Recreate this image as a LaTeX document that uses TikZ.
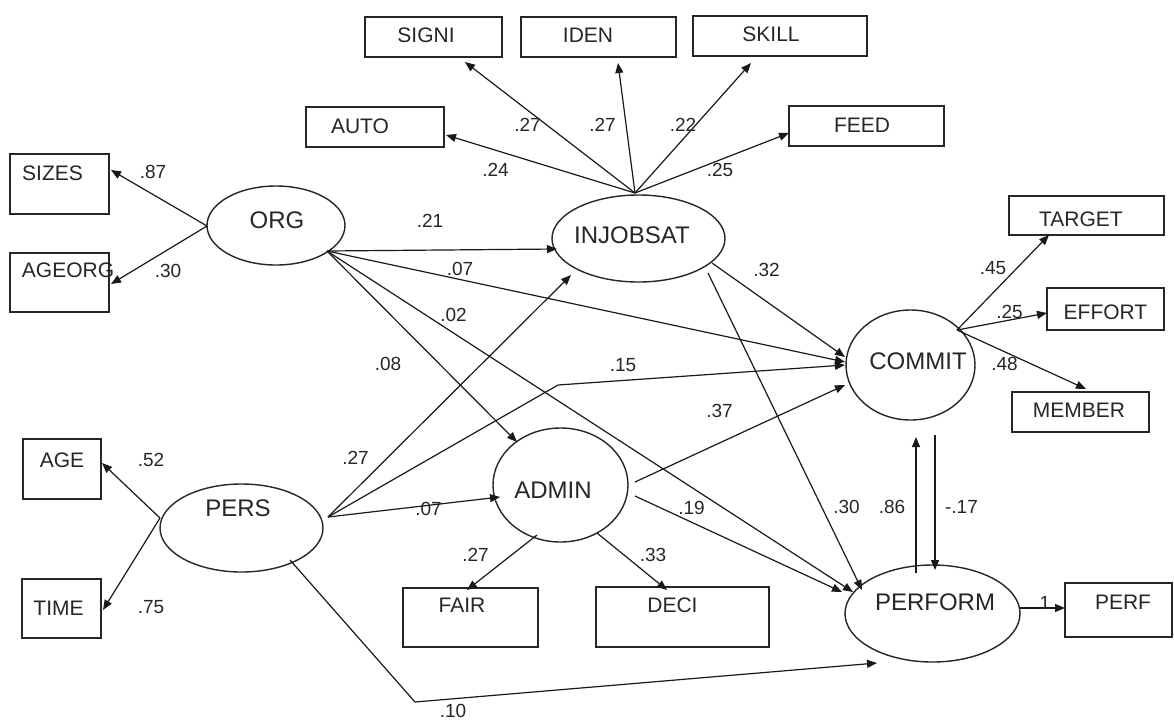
\documentclass[tikz,border=0pt]{standalone}
\usepackage{fontspec}
\setmainfont{Liberation Sans}
\usetikzlibrary{shapes.geometric,arrows.meta,calc}
\newcommand\mytxt[3]{\raisebox{#2}[0pt][0pt]{\makebox[0pt]{\kern#1\relax#3\kern-#1\relax}}}
\begin{document}
\begin{tikzpicture}[x=0.5pt,y=-0.5pt,
  ell/.style={draw=black!85, ellipse, inner sep=0pt, line width=0.7pt, text=black!85, font=\fontsize{12}{14}\selectfont},
  box/.style={draw=black!85, rectangle, inner sep=0pt, line width=0.7pt, text=black!85, font=\fontsize{10.5}{12}\selectfont},
  num/.style={inner sep=0pt, text=black!85, font=\fontsize{9.5}{11}\selectfont},
  arr/.style={draw=black!90, line width=0.6pt, -{Triangle[length=5pt,width=4pt]}}]
\useasboundingbox[fill=white] (0,0) rectangle (1174,719);
% latent variables
\node[ell, minimum width=69pt, minimum height=39.5pt] (org) at (276,225.5) {\mytxt{0.5pt}{-1.55pt}{ORG}};
\node[ell, minimum width=86.5pt, minimum height=43.5pt] (inj) at (638.5,238.5) {\mytxt{-3.25pt}{-2.55pt}{INJOBSAT}};
\node[ell, minimum width=64.5pt, minimum height=55pt] (commit) at (910.5,365) {\mytxt{3.75pt}{-2.3pt}{COMMIT}};
\node[ell, minimum width=81.5pt, minimum height=44pt] (pers) at (241.5,528) {\mytxt{-1.75pt}{5.7pt}{PERS}};
\node[ell, minimum width=67.5pt, minimum height=57pt] (admin) at (560.5,485) {\mytxt{-3.75pt}{-6.8pt}{ADMIN}};
\node[ell, minimum width=87.5pt, minimum height=48.5pt] (perform) at (932.5,613.5) {\mytxt{1.25pt}{1.45pt}{PERFORM}};
% indicators
\node[box, minimum width=68.5pt, minimum height=20pt] (signi) at (433.5,37) {\mytxt{-3.75pt}{-2.76pt}{SIGNI}};
\node[box, minimum width=77.5pt, minimum height=20pt] (iden) at (598.5,37) {\mytxt{-5.25pt}{-2.76pt}{IDEN}};
\node[box, minimum width=87pt, minimum height=20pt] (skill) at (780,36) {\mytxt{-4.5pt}{-2.76pt}{SKILL}};
\node[box, minimum width=69pt, minimum height=20pt] (auto) at (375,127) {\mytxt{-7.5pt}{-3.26pt}{AUTO}};
\node[box, minimum width=77.5pt, minimum height=20pt] (feed) at (866.5,126) {\mytxt{-2.25pt}{-3pt}{FEED}};
\node[box, minimum width=49.5pt, minimum height=30pt] (sizes) at (59.5,184) {\mytxt{-3.5pt}{1.74pt}{SIZES}};
\node[box, minimum width=49.5pt, minimum height=29.5pt] (ageorg) at (59.5,282.5) {\mytxt{4.25pt}{2.49pt}{AGEORG}};
\node[box, minimum width=77.5pt, minimum height=19.5pt] (target) at (1086.5,215.5) {\mytxt{-2.75pt}{-5.5pt}{TARGET}};
\node[box, minimum width=58.5pt, minimum height=21pt] (effort) at (1105.5,309) {\mytxt{0pt}{-5.26pt}{EFFORT}};
\node[box, minimum width=68.5pt, minimum height=20pt] (member) at (1080.5,412) {\mytxt{-0.75pt}{-2.5pt}{MEMBER}};
\node[box, minimum width=39pt, minimum height=30pt] (age) at (62,469) {\mytxt{0pt}{0.74pt}{AGE}};
\node[box, minimum width=39.5pt, minimum height=29.5pt] (time) at (61.5,608.5) {\mytxt{-1.5pt}{-3.26pt}{TIME}};
\node[box, minimum width=67.5pt, minimum height=29.5pt] (fair) at (470.5,617.5) {\mytxt{-4.25pt}{2.74pt}{FAIR}};
\node[box, minimum width=86.5pt, minimum height=30pt] (deci) at (682.5,617) {\mytxt{-5pt}{2.49pt}{DECI}};
\node[box, minimum width=53.5pt, minimum height=27pt] (perf) at (1118.5,610) {\mytxt{2.25pt}{0.24pt}{PERF}};
% measurement paths
\draw[arr] ($(org)+(-69,0.5)$) -- ($(sizes)+(51.5,-14)$);
\draw[arr] ($(org)+(-69,0.5)$) -- ($(ageorg)+(51.5,1.5)$);
\draw[arr] ($(inj)+(-3.5,-45.5)$) -- ($(signi)+(31.5,25)$);
\draw[arr] ($(inj)+(-3.5,-45.5)$) -- ($(iden)+(19.5,26)$);
\draw[arr] ($(inj)+(-3.5,-45.5)$) -- ($(skill)+(-29,27)$);
\draw[arr] ($(inj)+(-3.5,-45.5)$) -- ($(auto)+(71,8)$);
\draw[arr] ($(inj)+(-3.5,-45.5)$) -- ($(feed)+(-77.5,7)$);
\draw[arr] ($(commit)+(46.5,-35)$) -- ($(target)+(-37.5,19.5)$);
\draw[arr] ($(commit)+(46.5,-35)$) -- ($(effort)+(-58.5,4)$);
\draw[arr] ($(commit)+(46.5,-35)$) -- ($(member)+(5.5,-23)$);
\draw[arr] ($(pers)+(-81.5,-10)$) -- ($(age)+(40,-6)$);
\draw[arr] ($(pers)+(-81.5,-10)$) -- ($(time)+(41.5,1.5)$);
\draw[arr] ($(admin)+(-23.5,50)$) -- ($(fair)+(-3.5,-27.5)$);
\draw[arr] ($(admin)+(36.5,48)$) -- ($(deci)+(-15.5,-27)$);
\draw[arr] ($(perform)+(87.5,-5.5)$) -- ($(perf)+(-53.5,-2)$);
% structural paths
\draw[arr] ($(org)+(51,25.5)$) -- ($(inj)+(-81.5,10.5)$);
\draw[arr] ($(org)+(51,25.5)$) -- ($(commit)+(-65.5,-3)$);
\draw[arr] ($(org)+(51,25.5)$) -- ($(admin)+(-43.5,-43)$);
\draw[arr] ($(org)+(51,25.5)$) -- ($(perform)+(-79.5,-21.5)$);
\draw[arr] ($(pers)+(86.5,-11)$) -- ($(inj)+(-67.5,36.5)$);
\draw[arr] ($(pers)+(86.5,-11)$) -- ($(admin)+(-60.5,12)$);
\draw[arr] ($(pers)+(86.5,-11)$) -- (558,385) -- ($(commit)+(-65.5,0)$);
\draw[arr] ($(pers)+(48.5,32)$) -- (415,702) -- ($(perform)+(-55.5,49.5)$);
\draw[arr] ($(inj)+(73.5,24.5)$) -- ($(commit)+(-65.5,-8)$);
\draw[arr] ($(inj)+(69.5,34.5)$) -- ($(perform)+(-70.5,-23.5)$);
\draw[arr] ($(admin)+(74.5,-3)$) -- ($(commit)+(-65.5,20)$);
\draw[arr] ($(admin)+(74.5,11)$) -- ($(perform)+(-90.5,-21.5)$);
\draw[arr] ($(perform)+(-16.5,-40.5)$) -- ($(commit)+(5.5,72)$);
\draw[arr] ($(commit)+(24.5,70)$) -- ($(perform)+(2.5,-43.5)$);
% coefficients
\node[num] (n1) at (153,172) {.87};
\node[num] (n2) at (168,271) {.30};
\node[num] (n3) at (495.5,170) {.24};
\node[num] (n4) at (527.5,124.5) {.27};
\node[num] (n5) at (602.5,124.5) {.27};
\node[num] (n6) at (683,124.5) {.22};
\node[num] (n7) at (720,169.5) {.25};
\node[num] (n8) at (430,221) {.21};
\node[num] (n9) at (460,269) {.07};
\node[num] (n10) at (453.5,315) {.02};
\node[num] (n11) at (388,364) {.08};
\node[num] (n12) at (623,365) {.15};
\node[num] (n13) at (719.5,410.5) {.37};
\node[num] (n14) at (766.5,269.5) {.32};
\node[num] (n15) at (993,268.5) {.45};
\node[num] (n16) at (1009.5,311.5) {.25};
\node[num] (n17) at (1004.5,363.5) {.48};
\node[num] (n18) at (151,459.5) {.52};
\node[num] (n19) at (151,607.5) {.75};
\node[num] (n20) at (355.5,457.5) {.27};
\node[num] (n21) at (428.5,509) {.07};
\node[num] (n22) at (475.5,555) {.27};
\node[num] (n23) at (653,555) {.33};
\node[num] (n24) at (691.5,507.5) {.19};
\node[num] (n25) at (453,710.5) {.10};
\node[num] (n26) at (846.5,506.5) {.30};
\node[num] (n27) at (892,506.5) {.86};
\node[num] (n28) at (961.5,506.5) {-.17};
\node[num] (n29) at (1045,602.5) {1};
\end{tikzpicture}
\end{document}
